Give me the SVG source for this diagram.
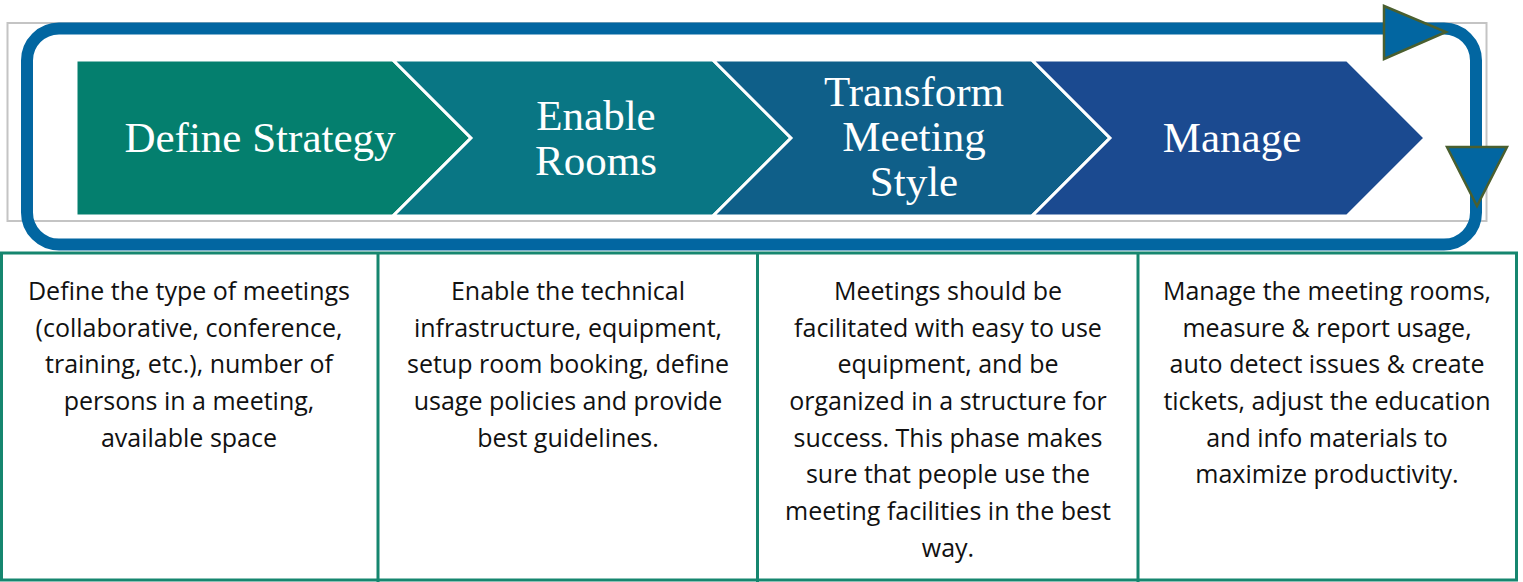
<svg xmlns="http://www.w3.org/2000/svg" width="1523" height="582" viewBox="0 0 1523 582">
<style>
.chev{stroke:#ffffff;stroke-width:3;stroke-linejoin:miter}
.ct{font-family:"Liberation Serif",serif;font-size:43px;fill:#ffffff;text-anchor:middle}
.bt{font-family:"Open Sans","Noto Sans",sans-serif;font-size:25px;fill:#111111;text-anchor:middle}
.cell{fill:none;stroke:#16866f;stroke-width:3}
.arr{fill:#0266a1;stroke:#4a5f2f;stroke-width:2.5;stroke-linejoin:miter}
</style>
<rect width="1523" height="582" fill="#ffffff"/>
<rect id="frame" x="7.5" y="23" width="1479" height="198" fill="none" stroke="#c4c4c4" stroke-width="2"/>
<g id="connectors">
<rect x="27" y="28.5" width="1449" height="216" rx="32" ry="32" fill="none" stroke="#0266a1" stroke-width="12"/>
<polygon class="arr" points="1384,6 1384,59 1446,32"/>
<polygon class="arr" points="1447,147 1507,147 1477,206"/>
</g>
<g id="chevron1">
<polygon class="chev" fill="#047f6e" points="76,60 393,60 471,138 393,216 76,216"/>
<text class="ct" x="260" y="152">Define Strategy</text>
</g>
<g id="chevron2">
<polygon class="chev" fill="#097684" points="393,60 713,60 791,138 713,216 393,216 471,138"/>
<text class="ct" x="596" y="130">Enable</text>
<text class="ct" x="596" y="175">Rooms</text>
</g>
<g id="chevron3">
<polygon class="chev" fill="#0f5f89" points="713,60 1032,60 1110,138 1032,216 713,216 791,138"/>
<text class="ct" x="914" y="106">Transform</text>
<text class="ct" x="914" y="151">Meeting</text>
<text class="ct" x="914" y="196">Style</text>
</g>
<g id="chevron4">
<polygon class="chev" fill="#1b4a90" points="1032,60 1347,60 1425,138 1347,216 1032,216 1110,138"/>
<text class="ct" x="1232" y="152">Manage</text>
</g>
<g id="table">
<rect class="cell" x="1.5" y="253" width="1515" height="327"/>
<line class="cell" x1="378" y1="253" x2="378" y2="582"/>
<line class="cell" x1="757.5" y1="253" x2="757.5" y2="582"/>
<line class="cell" x1="1138" y1="253" x2="1138" y2="582"/>
</g>
<g id="desc1">
<text class="bt" x="189" y="300">Define the type of meetings</text>
<text class="bt" x="189" y="337">(collaborative, conference,</text>
<text class="bt" x="189" y="373">training, etc.), number of</text>
<text class="bt" x="189" y="410">persons in a meeting,</text>
<text class="bt" x="189" y="447">available space</text>
</g>
<g id="desc2">
<text class="bt" x="568" y="300">Enable the technical</text>
<text class="bt" x="568" y="337">infrastructure, equipment,</text>
<text class="bt" x="568" y="373">setup room booking, define</text>
<text class="bt" x="568" y="410">usage policies and provide</text>
<text class="bt" x="568" y="447">best guidelines.</text>
</g>
<g id="desc3">
<text class="bt" x="948" y="300">Meetings should be</text>
<text class="bt" x="948" y="337">facilitated with easy to use</text>
<text class="bt" x="948" y="373">equipment, and be</text>
<text class="bt" x="948" y="410">organized in a structure for</text>
<text class="bt" x="948" y="447">success. This phase makes</text>
<text class="bt" x="948" y="483">sure that people use the</text>
<text class="bt" x="948" y="520">meeting facilities in the best</text>
<text class="bt" x="948" y="557">way.</text>
</g>
<g id="desc4">
<text class="bt" x="1327" y="300">Manage the meeting rooms,</text>
<text class="bt" x="1327" y="337">measure &amp; report usage,</text>
<text class="bt" x="1327" y="373">auto detect issues &amp; create</text>
<text class="bt" x="1327" y="410">tickets, adjust the education</text>
<text class="bt" x="1327" y="447">and info materials to</text>
<text class="bt" x="1327" y="483">maximize productivity.</text>
</g>
</svg>
